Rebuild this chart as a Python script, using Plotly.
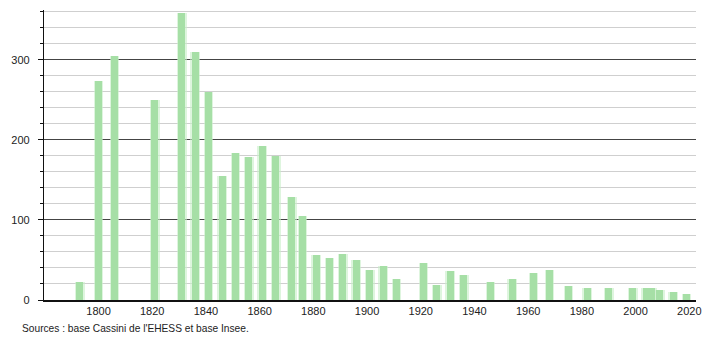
import plotly.graph_objects as go

years = [1793, 1800, 1806, 1821, 1831, 1836, 1841, 1846, 1851, 1856, 1861, 1866,
         1872, 1876, 1881, 1886, 1891, 1896, 1901, 1906, 1911, 1921, 1926, 1931,
         1936, 1946, 1954, 1962, 1968, 1975, 1982, 1990, 1999, 2004, 2006, 2009,
         2014, 2019]
population = [22, 273, 304, 250, 358, 310, 260, 155, 183, 178, 192, 180,
              128, 105, 56, 53, 57, 50, 38, 43, 26, 46, 19, 36,
              31, 23, 26, 34, 37, 17, 15, 15, 15, 15, 15, 12,
              10, 7]
y_tick_vals = [0, 100, 200, 300]
x_tick_vals = [1800, 1820, 1840, 1860, 1880, 1900, 1920, 1940, 1960, 1980, 2000, 2020]
source_text = "Sources : base Cassini de l'EHESS et base Insee."

fig = go.Figure()
# soft halo to mimic the gradient edges
fig.add_trace(go.Bar(x=years, y=population, width=3.6,
                     marker=dict(color="rgba(200,238,200,0.6)", line=dict(width=0)),
                     hoverinfo="skip"))
fig.add_trace(go.Bar(x=years, y=population, width=2.6,
                     marker=dict(color="rgb(166,223,166)", line=dict(width=0))))

fig.update_layout(
    width=710, height=340,
    margin=dict(l=44, r=9, t=10, b=40),
    paper_bgcolor="white", plot_bgcolor="white",
    showlegend=False, barmode="overlay", bargap=0,
    font=dict(family="Liberation Sans, Arial, sans-serif", size=11, color="#222"),
    annotations=[dict(text=source_text, xref="paper", yref="paper",
                      x=-0.0365, y=-0.097, xanchor="left", yanchor="middle",
                      showarrow=False, font=dict(size=10.2, color="#222"))],
)
fig.update_xaxes(range=[1779.7, 2022.5], tickvals=x_tick_vals,
                 showgrid=False, zeroline=False,
                 showline=True, linecolor="#111", linewidth=1.5,
                 ticks="", ticklen=0, tickfont=dict(size=11))
fig.update_yaxes(range=[0, 362], tickvals=y_tick_vals,
                 showgrid=True, gridcolor="#444", gridwidth=1,
                 zeroline=False,
                 showline=True, linecolor="#111", linewidth=1.2,
                 ticks="outside", ticklen=5, tickcolor="#111", tickwidth=1,
                 ticklabelstandoff=6,
                 minor=dict(dtick=20, tick0=0, showgrid=True, gridcolor="#cfcfcf",
                            gridwidth=1, ticks="outside", ticklen=3, tickcolor="#111"),
                 tickfont=dict(size=11))

fig.write_html("out.html")
